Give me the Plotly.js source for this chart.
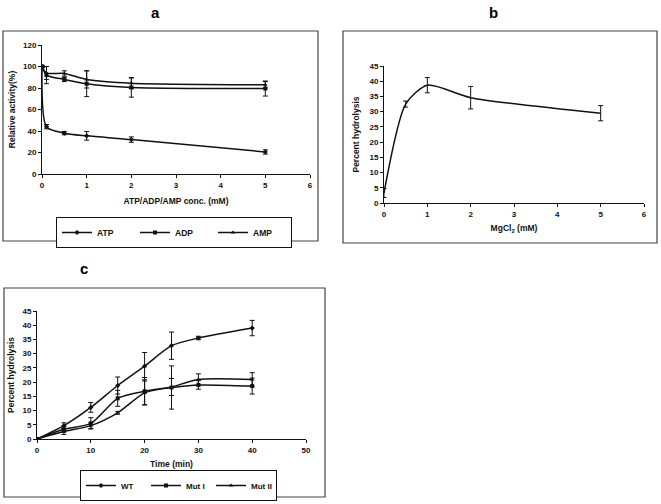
<!DOCTYPE html>
<html><head><meta charset="utf-8">
<script src="https://cdn.plot.ly/plotly-3.0.1.min.js"></script>
<style>html,body{margin:0;padding:0;background:#fff}#chart{width:661px;height:504px}</style>
</head><body><div id="chart"></div>
<script>
// Panel a: nucleotide inhibition
const concA = [0, 0.1, 0.5, 1, 2, 5];
const atpY = [100, 44, 38, 35.5, 32, 20.5];
const atpErr = [1, 2, 1.5, 4, 2.5, 2];
const adpY = [100, 92, 88, 84, 80.5, 79.5];
const adpErr = [1, 8, 2, 12, 9, 7];
const ampY = [100, 94, 93.5, 88, 84.5, 83];
const ampErr = [1, 6, 2.5, 8, 5, 3];
// Panel b: MgCl2
const mgX = [0, 0.5, 1, 2, 5];
const mgY = [3.3, 32.5, 38.7, 34.6, 29.5];
const mgErr = [1.5, 1, 2.5, 3.7, 2.5];
// Panel c: time course
const timeX = [0, 5, 10, 15, 20, 25, 30, 40];
const wtY = [0, 4.7, 11.1, 18.8, 25.6, 32.8, 35.5, 39];
const wtErr = [0, 1, 1.7, 3, 4.8, 4.8, 0.6, 2.7];
const mut1Y = [0, 3.4, 5.5, 14.3, 16.8, 18.1, 19, 18.6];
const mut1Err = [0, 1, 2, 2.8, 4.8, 7.6, 1.5, 2.8];
const mut2Y = [0, 2.6, 4.7, 9.2, 16.2, 18.3, 20.9, 20.9];
const mut2Err = [0, 1, 1, 0.5, 4.2, 3, 2, 2.4];
const nameA = ['ATP', 'ADP', 'AMP'];
const nameC = ['WT', 'Mut I', 'Mut II'];

const FF = 'Liberation Sans, Arial, sans-serif';
const W = 661, H = 504;
const px = v => v / W, py = v => 1 - v / H;

function tr(x, y, e, name, sym, xa, ya, lg, show) {
  return {
    x: x, y: y, name: name, type: 'scatter', mode: 'lines+markers',
    xaxis: xa, yaxis: ya, legend: lg, showlegend: show,
    line: {color: '#111', width: 1.5, shape: 'spline', smoothing: 0.7},
    marker: {symbol: sym, size: 4, color: '#111'},
    error_y: {type: 'data', array: e, visible: true, color: '#111', thickness: 1, width: 2.5}
  };
}
const data = [
  tr(concA, atpY, atpErr, nameA[0], 'diamond', 'x', 'y', 'legend', true),
  tr(concA, adpY, adpErr, nameA[1], 'square', 'x', 'y', 'legend', true),
  tr(concA, ampY, ampErr, nameA[2], 'triangle-up', 'x', 'y', 'legend', true),
  tr(mgX, mgY, mgErr, 'MgCl2', 'line-ew', 'x2', 'y2', 'legend', false),
  tr(timeX, wtY, wtErr, nameC[0], 'diamond', 'x3', 'y3', 'legend2', true),
  tr(timeX, mut1Y, mut1Err, nameC[1], 'square', 'x3', 'y3', 'legend2', true),
  tr(timeX, mut2Y, mut2Err, nameC[2], 'triangle-up', 'x3', 'y3', 'legend2', true)
];

const tickF = {family: FF, size: 8, color: '#111', weight: 'bold'};
const titleF = {family: FF, size: 8.5, color: '#111', weight: 'bold'};
const legF = {family: FF, size: 8, color: '#111', weight: 'bold'};
function ax(dom, range, dtick, anchor, title, standoff) {
  return {
    domain: dom, range: range, dtick: dtick, anchor: anchor,
    showline: true, linecolor: '#111', linewidth: 1, mirror: false,
    ticks: 'outside', ticklen: 3, tickcolor: '#111', tickwidth: 1,
    showgrid: false, zeroline: false, tickfont: tickF, fixedrange: true,
    title: {text: title, font: titleF, standoff: standoff}
  };
}
const box = (x0, y0, x1, y1) => ({type: 'rect', xref: 'paper', yref: 'paper',
  x0: px(x0), x1: px(x1), y0: py(y0), y1: py(y1), line: {color: '#444', width: 1.2}});
const lbl = (t, x, y) => ({text: t, xref: 'paper', yref: 'paper', x: px(x), y: py(y),
  xanchor: 'center', yanchor: 'middle',
  showarrow: false, font: {family: FF, size: 15, color: '#000', weight: 'bold'}});

const layout = {
  width: W, height: H, margin: {l: 0, r: 0, t: 0, b: 0},
  paper_bgcolor: '#fff', plot_bgcolor: 'rgba(0,0,0,0)',
  xaxis: ax([px(42), px(310)], [0, 6], 1, 'y', 'ATP/ADP/AMP conc. (mM)', 9),
  yaxis: ax([py(174), py(45)], [0, 120], 20, 'x', 'Relative activity(%)', 6),
  xaxis2: ax([px(384), px(644)], [0, 6], 1, 'y2', 'MgCl<sub>2</sub> (mM)', 7),
  yaxis2: ax([py(203), py(66)], [0, 45], 5, 'x2', 'Percent hydrolysis', 8),
  xaxis3: ax([px(37), px(306)], [0, 50], 10, 'y3', 'Time (min)', 7),
  yaxis3: ax([py(439), py(311)], [0, 45], 5, 'x3', 'Percent hydrolysis', 6),
  legend: {orientation: 'h', x: px(56), y: py(217), xanchor: 'left', yanchor: 'top',
    bordercolor: '#111', borderwidth: 1, bgcolor: '#fff', font: titleF,
    entrywidth: 33, itemwidth: 30, tracegroupgap: 0},
  legend2: {orientation: 'h', x: px(80), y: py(470), xanchor: 'left', yanchor: 'top',
    bordercolor: '#111', borderwidth: 1, bgcolor: '#fff', font: legF,
    entrywidth: 20, itemwidth: 30},
  shapes: [box(3, 31, 318, 241), box(343, 31, 657, 243), box(4, 288, 325, 497)],
  annotations: [lbl('a', 155, 12), lbl('b', 493, 12), lbl('c', 84, 268)]
};
Plotly.newPlot('chart', data, layout, {displayModeBar: false, staticPlot: true});
</script></body></html>
